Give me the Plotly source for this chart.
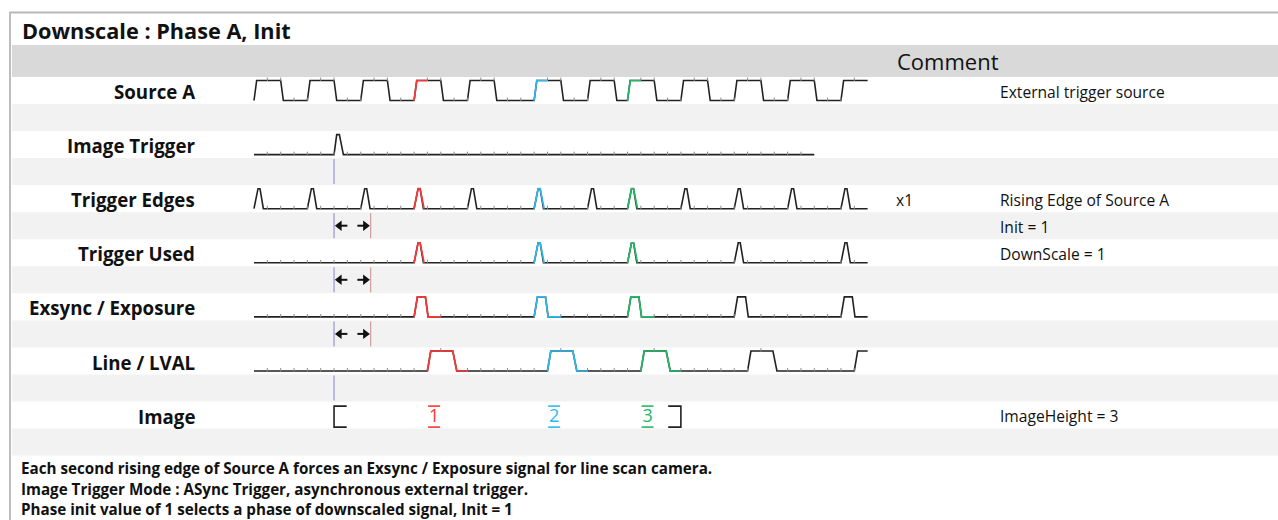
import numpy as np
import plotly.graph_objects as go

# ---------------- data ----------------
title = "Downscale : Phase A, Init"
comment_header = "Comment"
signal_names = ["Source A", "Image Trigger", "Trigger Edges", "Trigger Used",
                "Exsync / Exposure", "Line / LVAL", "Image"]
row_comments = ["External trigger source", "", "Rising Edge of Source A", "DownScale = 1",
                "", "", "ImageHeight = 3"]
band_comments = ["", "", "Init = 1", "", "", "", ""]
multiplier_label = "x1"
source_a_rises = [0, 4, 8, 12, 16, 21, 25, 28, 32, 36, 40, 44]
trigger_used = [12, 21, 28, 36, 44]
image_trigger_time = [6]
image_trigger_end = 42
timeline_end = 46
frame_starts = [12, 21, 28]
frame_labels = ["1", "2", "3"]
frame_colors = ["#ff3535", "#2fb8f0", "#25b865"]
image_start = 6
image_end = 32
delay_span = [6, 8.75]
footnotes = [
    "Each second rising edge of Source A forces an Exsync / Exposure signal for line scan camera.",
    "Image Trigger Mode : ASync Trigger, asynchronous external trigger.",
    "Phase init value of 1 selects a phase of downscaled signal, Init = 1",
]

# ---------------- geometry ----------------
W, H = 1278, 520
X0, UNIT = 254.0, 13.34          # pixel of time 0, pixels per time unit
ROW0, PITCH, ROWH = 77.0, 54.1, 27.0
FONT = "Open Sans"
INK = "#222222"


def row_top(i):
    return ROW0 + PITCH * i


def lvl_y(i, lv):
    return row_top(i) + 23.5 - 20.0 * lv


def build_wave(events, shape, end):
    pts = [(0.0, 0.0)]
    for n in events:
        for dt, lv in shape:
            pts.append((n + dt, lv))
    t = np.array([p[0] for p in pts])
    v = np.array([p[1] for p in pts])
    keep = t < end
    t2 = list(t[keep]) + [end]
    v2 = list(v[keep]) + [float(np.interp(end, t, v))]
    return np.array(t2), np.array(v2)


def segment(t, v, a, b):
    inside = (t > a) & (t < b)
    ts = [a] + list(t[inside]) + [b]
    vs = [float(np.interp(a, t, v))] + list(v[inside]) + [float(np.interp(b, t, v))]
    return np.array(ts), np.array(vs)


shape_src = [(0, 0), (0.2, 1), (2.0, 1), (2.2, 0)]
shape_imgtrg = [(0, 0), (0.2, 1), (0.4, 1), (0.7, 0)]
shape_edge = [(0, 0), (0.3, 1), (0.45, 1), (0.7, 0)]
shape_exs = [(0, 0), (0.25, 1), (0.85, 1), (1.05, 0)]
shape_lval = [(1, 0), (1.25, 1), (2.9, 1), (3.2, 0)]

waves = [
    (0, build_wave(source_a_rises, shape_src, timeline_end), (0, 1)),
    (1, build_wave(image_trigger_time, shape_imgtrg, image_trigger_end), None),
    (2, build_wave(source_a_rises, shape_edge, timeline_end), (0, 0.75)),
    (3, build_wave(trigger_used, shape_edge, timeline_end), (0, 0.75)),
    (4, build_wave(trigger_used, shape_exs, timeline_end), (0, 2)),
    (5, build_wave(trigger_used, shape_lval, timeline_end), (1, 4)),
]

fig = go.Figure()
shapes = []
ann = []


# ---------------- background / frame ----------------
def prect(x0, y0, x1, y1, color):
    shapes.append(dict(type="rect", xref="paper", yref="y", x0=x0 / W, x1=x1 / W,
                       y0=y0, y1=y1, fillcolor=color, line=dict(width=0), layer="below"))


prect(12, 45, W, 77, "#d9d9d9")
for i in range(7):
    prect(12, row_top(i) + ROWH, W, row_top(i) + 2 * ROWH, "#f2f2f2")
shapes.append(dict(type="line", xref="paper", yref="y", x0=9 / W, x1=1, y0=12.5, y1=12.5,
                   line=dict(color="#b8b8b8", width=2)))
shapes.append(dict(type="line", xref="paper", yref="y", x0=10 / W, x1=10 / W, y0=12, y1=H,
                   line=dict(color="#bdbdbd", width=2)))

# ---------------- waveforms ----------------
for i, (t, v), span in waves:
    if i == 0:  # Source A starts directly with its rising edge
        t, v = t[1:], v[1:]
    fig.add_trace(go.Scatter(x=t, y=lvl_y(i, v), mode="lines",
                             line=dict(color=INK, width=1.6), hoverinfo="skip"))
    tk = np.arange(1, int(t[-1]))
    lv = np.interp(tk, t, v)
    ok = (lv == 0) | (lv == 1)
    fig.add_trace(go.Scatter(x=tk[ok], y=lvl_y(i, lv[ok]) - 1.2, mode="markers",
                             marker=dict(symbol="line-ns", size=2.5,
                                         line=dict(color="#8a8a8a", width=1)),
                             hoverinfo="skip"))
    if span is not None:
        for n, c in zip(frame_starts, frame_colors):
            ts, vs = segment(t, v, n + span[0], n + span[1])
            fig.add_trace(go.Scatter(x=ts, y=lvl_y(i, vs), mode="lines",
                                     line=dict(color=c, width=1.7), hoverinfo="skip"))

# ---------------- guide lines and delay arrows ----------------
for b in range(1, 6):
    bt = row_top(b) + ROWH
    fig.add_trace(go.Scatter(x=[delay_span[0], delay_span[0]], y=[bt + 1, bt + ROWH - 1],
                             mode="lines", line=dict(color="#8383c8", width=1), hoverinfo="skip"))
    if 2 <= b <= 4:
        fig.add_trace(go.Scatter(x=[delay_span[1], delay_span[1]], y=[bt + 1, bt + ROWH - 1],
                                 mode="lines", line=dict(color="#c88c8c", width=1),
                                 hoverinfo="skip"))
        yc = bt + ROWH / 2
        a0, a1 = delay_span
        fig.add_trace(go.Scatter(x=[a0 + 0.5, a0 + 1.0, None, a1 - 1.0, a1 - 0.5],
                                 y=[yc, yc, None, yc, yc], mode="lines",
                                 line=dict(color="#111", width=2), hoverinfo="skip"))
        fig.add_trace(go.Scatter(x=[a0 + 0.4, a1 - 0.4], y=[yc, yc], mode="markers",
                                 marker=dict(symbol=["triangle-left", "triangle-right"],
                                             size=9, color="#111"),
                                 hoverinfo="skip"))

# ---------------- image row ----------------
it = row_top(6)
yb0, yb1 = it + 4.5, it + 25.5
fig.add_trace(go.Scatter(x=[image_start + 0.95, image_start, image_start, image_start + 0.95],
                         y=[yb0, yb0, yb1, yb1], mode="lines",
                         line=dict(color=INK, width=1.6), hoverinfo="skip"))
fig.add_trace(go.Scatter(x=[image_end - 0.95, image_end, image_end, image_end - 0.95],
                         y=[yb0, yb0, yb1, yb1], mode="lines",
                         line=dict(color=INK, width=1.6), hoverinfo="skip"))
for n, lab, c in zip(frame_starts, frame_labels, frame_colors):
    fig.add_trace(go.Scatter(x=[n + 1.05, n + 1.95, None, n + 1.05, n + 1.95],
                             y=[yb0, yb0, None, yb1, yb1], mode="lines",
                             line=dict(color=c, width=1.6), hoverinfo="skip"))
    fig.add_trace(go.Scatter(x=[n + 1.5], y=[it + 15.5], mode="text", text=[lab],
                             textfont=dict(family=FONT, size=18, color=c),
                             hoverinfo="skip"))


# ---------------- text ----------------
def text(x, y, s, size, color="#111", anchor="left", bold=False, pad=1):
    ann.append(dict(xref="paper", yref="y", x=x / W, y=y, text=("<b>%s</b>" % s) if bold else s,
                    showarrow=False, xanchor=anchor, yanchor="middle", borderpad=pad,
                    font=dict(family=FONT, size=size, color=color)))


text(20, 30, title, 21.7, bold=True)
text(948, 61, comment_header, 22, anchor="center")
for i, name in enumerate(signal_names):
    yc = row_top(i) + 14.5
    text(197, yc, name, 18.7, anchor="right", bold=True)
    if row_comments[i]:
        text(998, yc, row_comments[i], 15.6)
    if band_comments[i]:
        text(998, yc + PITCH / 2, band_comments[i], 15.6)
text(894, row_top(2) + 14.5, multiplier_label, 15.6)
for k, y in enumerate([468, 489, 508.5]):
    text(20, y, footnotes[k], 15.2, bold=True, pad=0)

fig.update_layout(
    width=W, height=H, margin=dict(l=0, r=0, t=0, b=0),
    paper_bgcolor="white", plot_bgcolor="white", showlegend=False,
    shapes=shapes, annotations=ann,
    xaxis=dict(range=[-X0 / UNIT, (W - X0) / UNIT], visible=False, fixedrange=True),
    yaxis=dict(range=[H, 0], visible=False, fixedrange=True),
)
fig.write_html("out.html", config={"displayModeBar": False},
               post_script="document.body.style.margin='0';")
